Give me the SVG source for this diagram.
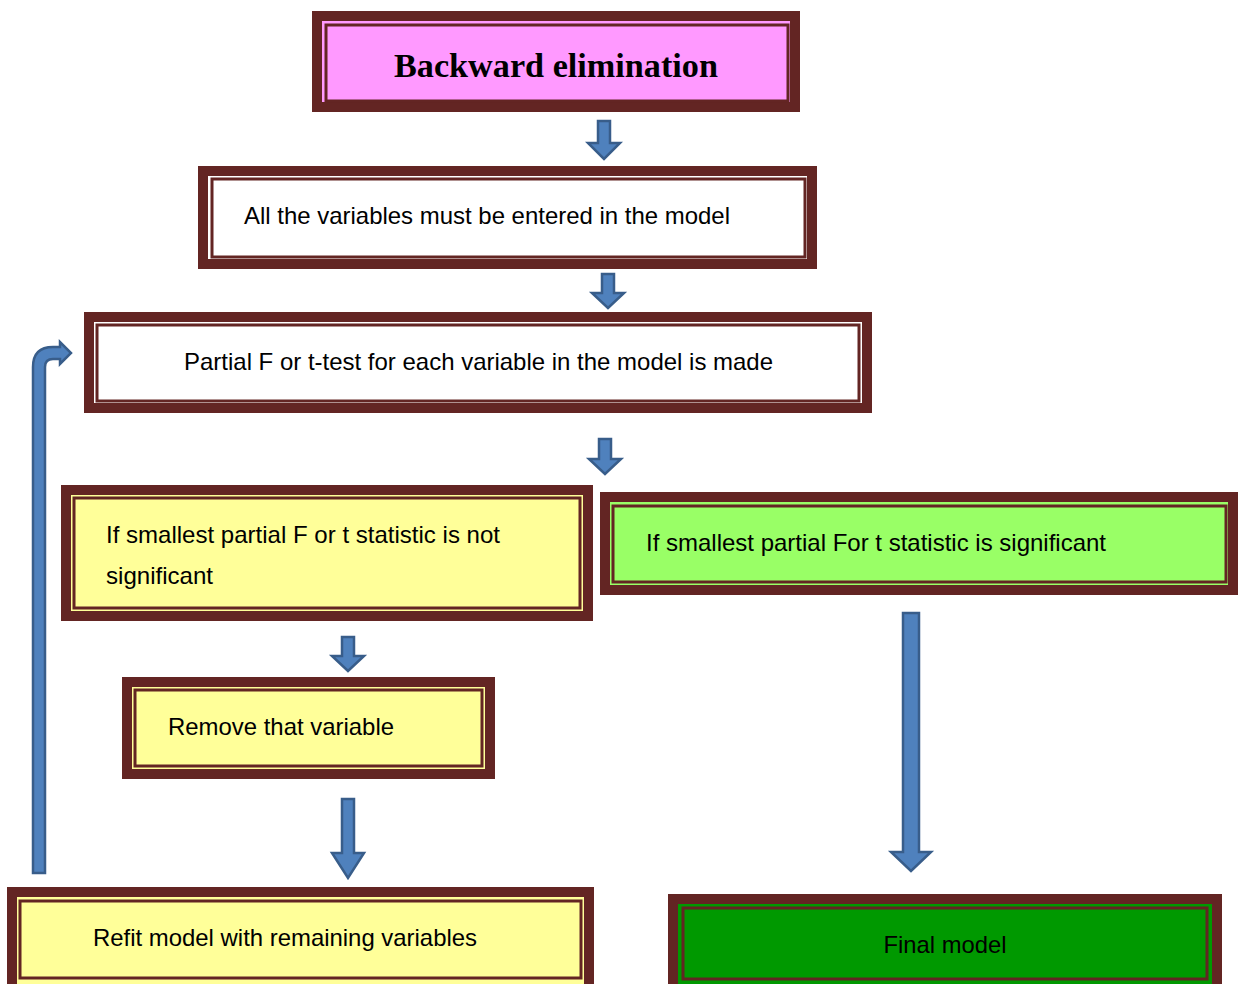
<svg xmlns="http://www.w3.org/2000/svg" width="1238" height="984" viewBox="0 0 1238 984">
<style>
.outer{stroke:#632523;stroke-width:10}
.inner{fill:none;stroke:#632523;stroke-width:3}
.pink{fill:#ff99ff}.white{fill:#ffffff}.yellow{fill:#ffff99}.lgreen{fill:#99ff66}.dgreen{fill:#009900}
.t{font-family:"Liberation Sans",Arial,sans-serif;font-size:24px;fill:#000}
.title{font-family:"Liberation Serif","DejaVu Serif",serif;font-size:34px;font-weight:bold;fill:#000}
.arr{fill:#4f81bd;stroke:#385d8a;stroke-width:2.5;stroke-linejoin:miter}
</style>
<rect width="1238" height="984" fill="#ffffff"/>
<g id="n1">
<rect class="outer pink" x="317" y="16" width="478" height="91"/>
<rect class="inner" x="326" y="25" width="462" height="76"/>
<text class="title" x="556" y="77" text-anchor="middle" textLength="324" lengthAdjust="spacingAndGlyphs">Backward elimination</text>
</g>
<g id="n2">
<rect class="outer white" x="203" y="171" width="609" height="93"/>
<rect class="inner" x="212" y="179" width="593" height="78"/>
<text class="t" x="244" y="224" textLength="486" lengthAdjust="spacingAndGlyphs">All the variables must be entered in the model</text>
</g>
<g id="n3">
<rect class="outer white" x="89" y="317" width="778" height="91"/>
<rect class="inner" x="97" y="325" width="762" height="76"/>
<text class="t" x="184" y="370" textLength="589" lengthAdjust="spacingAndGlyphs">Partial F or t-test for each variable in the model is made</text>
</g>
<g id="n4">
<rect class="outer yellow" x="66" y="490" width="522" height="126"/>
<rect class="inner" x="74" y="498" width="506" height="110"/>
<text class="t" x="106" y="543" textLength="394" lengthAdjust="spacingAndGlyphs">If smallest partial F or t statistic is not</text>
<text class="t" x="106" y="584" textLength="107" lengthAdjust="spacingAndGlyphs">significant</text>
</g>
<g id="n5">
<rect class="outer lgreen" x="605" y="497" width="628" height="93"/>
<rect class="inner" x="613" y="506" width="613" height="76"/>
<text class="t" x="646" y="551" textLength="460" lengthAdjust="spacingAndGlyphs">If smallest partial For t statistic is significant</text>
</g>
<g id="n6">
<rect class="outer yellow" x="127" y="682" width="363" height="92"/>
<rect class="inner" x="135" y="690" width="347" height="76"/>
<text class="t" x="168" y="735" textLength="226" lengthAdjust="spacingAndGlyphs">Remove that variable</text>
</g>
<g id="n7">
<rect class="outer yellow" x="12" y="892" width="577" height="100"/>
<rect class="inner" x="20" y="901" width="561" height="77"/>
<text class="t" x="93" y="946" textLength="384" lengthAdjust="spacingAndGlyphs">Refit model with remaining variables</text>
</g>
<g id="n8">
<rect class="outer dgreen" x="673" y="899" width="544" height="95"/>
<rect class="inner" x="683" y="908" width="524" height="71"/>
<text class="t" x="945" y="953" text-anchor="middle" textLength="123" lengthAdjust="spacingAndGlyphs">Final model</text>
</g>
<g id="connectors">
<path class="arr" d="M598,121 H610 V143 H620 L604,159 L588,143 H598 Z"/>
<path class="arr" d="M602,274 H614 V293 H624 L608,308 L592,293 H602 Z"/>
<path class="arr" d="M599,439 H611 V459 H621 L605,474 L589,459 H599 Z"/>
<path class="arr" d="M342,637 H354 V656 H364 L348,671 L332,656 H342 Z"/>
<path class="arr" d="M342,799 H354 V853 H364 L348,878 L332,853 H342 Z"/>
<path class="arr" d="M903,613 H919 V852 H931 L911,871 L891,852 H903 Z"/>
<path class="arr" d="M33,873 V367 Q33,347 53,347 H60 V342 L71,353 L60,364 V359 H53 Q45,359 45,367 V873 Z"/>
</g>
</svg>
